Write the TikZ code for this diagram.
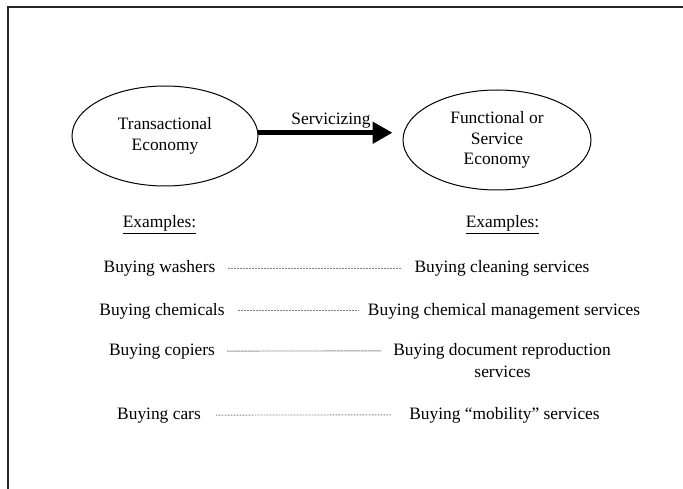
\documentclass[tikz,border=0pt]{standalone}
\usepackage{fontspec}
\setmainfont{Liberation Serif}
\usetikzlibrary{arrows.meta,shapes.geometric}
\tikzset{
  txt/.style={inner sep=0pt, anchor=base, font=\fontsize{17.4}{20.5}\selectfont},
  oval/.style={draw, line width=1pt, ellipse, inner sep=0pt, align=center,
    font=\fontsize{17.4}{20.5}\selectfont},
  dotline/.style={draw=black!50, line width=0.9pt, dash pattern=on 0.9pt off 0.6pt},
  bigarrow/.style={line width=5pt, -{Triangle[length=20pt,width=21pt]}},
  frame/.style={line width=2pt, draw=black!85}
}
\begin{document}
\begin{tikzpicture}[x=1pt,y=-1pt]
\useasboundingbox (0,0) rectangle (683,489);
\fill[white] (0,0) rectangle (683,489);
% frame
\draw[frame] (684,7.5) -- (7.5,7.5) -- (7.5,490);
% ellipses
\node[oval, minimum width=186pt, minimum height=100pt] (L) at (165,136) {Transactional\\Economy};
\node[oval, minimum width=188pt, minimum height=100pt] (R) at (497,140) {Functional or\\Service\\Economy};
\draw[bigarrow, shorten >=10pt] (L.2.5) -- (L.2.5 -| R.west);
\node[txt] (S) at (331,125) {Servicizing};
% examples headings
\node[txt] (EL) at (159.5,228) {\underline{Examples:}};
\node[txt] (ER) at (502.5,228) {\underline{Examples:}};
% rows
\node[txt] (l1) at (159.5,272.7) {Buying washers};
\node[txt] (r1) at (502,272.7) {Buying cleaning services};
\node[txt] (l2) at (162,315) {Buying chemicals};
\node[txt] (r2) at (504,315) {Buying chemical management services};
\node[txt] (l3) at (162,355) {Buying copiers};
\node[txt] (r3) at (502,355) {Buying document reproduction};
\node[txt] (r3b) at (502.5,377) {services};
\node[txt] (l4) at (159,419) {Buying cars};
\node[txt] (r4) at (504.5,419) {Buying “mobility” services};
\draw[dotline, shorten <=12pt, shorten >=13pt] (l1.east) -- (r1.west);
\draw[dotline, shorten <=13pt, shorten >=9pt] (l2.east) -- (r2.west);
\draw[dotline, shorten <=12pt, shorten >=12pt] (l3.east) -- (r3.west);
\draw[dotline, shorten <=15pt, shorten >=18pt] (l4.east) -- (r4.west);
\end{tikzpicture}
\end{document}
